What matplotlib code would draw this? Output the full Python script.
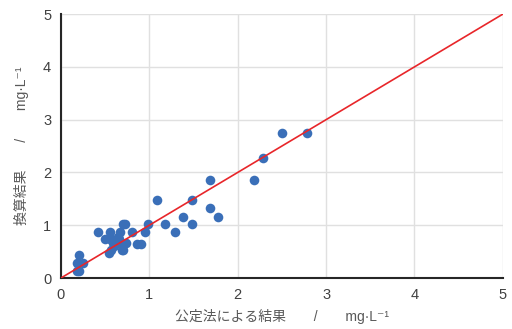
import matplotlib
matplotlib.use("Agg")
import matplotlib.pyplot as plt

plt.rcParams['font.family'] = ['Liberation Sans', 'Noto Sans CJK JP', 'DejaVu Sans']

# 公定法 (x) vs 換算 (y), mg/L
official = [0.18, 0.21, 0.20, 0.18, 0.25, 0.42, 0.56, 0.50, 0.57, 0.70,
            0.72, 0.67, 0.65, 0.63, 0.59, 0.54, 0.57, 0.69, 0.70, 0.74,
            0.80, 0.86, 0.91, 0.95, 0.99, 1.18, 1.29, 1.09, 1.48, 1.38,
            1.48, 1.69, 1.78, 1.69, 2.19, 2.29, 2.50, 2.79, 0.66, 0.60,
            0.70, 0.55]
converted = [0.13, 0.14, 0.44, 0.28, 0.28, 0.88, 0.88, 0.74, 0.74, 1.02,
             1.02, 0.88, 0.78, 0.69, 0.66, 0.47, 0.54, 0.54, 0.53, 0.66,
             0.88, 0.64, 0.64, 0.88, 1.02, 1.02, 0.87, 1.48, 1.48, 1.16,
             1.02, 1.32, 1.16, 1.86, 1.86, 2.28, 2.75, 2.75, 0.74, 0.60,
             0.63, 0.74]
line_x = [0, 5]
line_y = [0, 5]
ticks = [0, 1, 2, 3, 4, 5]

fig = plt.figure(figsize=(5.12, 3.29), dpi=100)
ax = fig.add_axes([0.119, 0.155, 0.863, 0.802])

ax.scatter(official, converted, s=48, color='#3A6FB8', zorder=3, linewidths=0)
ax.plot(line_x, line_y, color='#E8262A', lw=1.2, zorder=4)

ax.set_xlim(0, 5)
ax.set_ylim(0, 5)
ax.set_xticks(ticks)
ax.set_yticks(ticks)
ax.grid(True, color='#E0E0E0', lw=1)
ax.set_axisbelow(True)
for s in ['top', 'right']:
    ax.spines[s].set_visible(False)
for s in ['left', 'bottom']:
    ax.spines[s].set_linewidth(1.5)
    ax.spines[s].set_color('#262626')
ax.tick_params(length=0, labelsize=10.5, labelcolor='#404040', pad=7)

ax.set_xlabel('公定法による結果　　/　　mg·L⁻¹', fontsize=10, color='#595959',
              labelpad=5)
ax.set_ylabel('換算結果　　/　　mg·L⁻¹', fontsize=10, color='#595959',
              labelpad=10)

fig.savefig('out.png', dpi=100)
